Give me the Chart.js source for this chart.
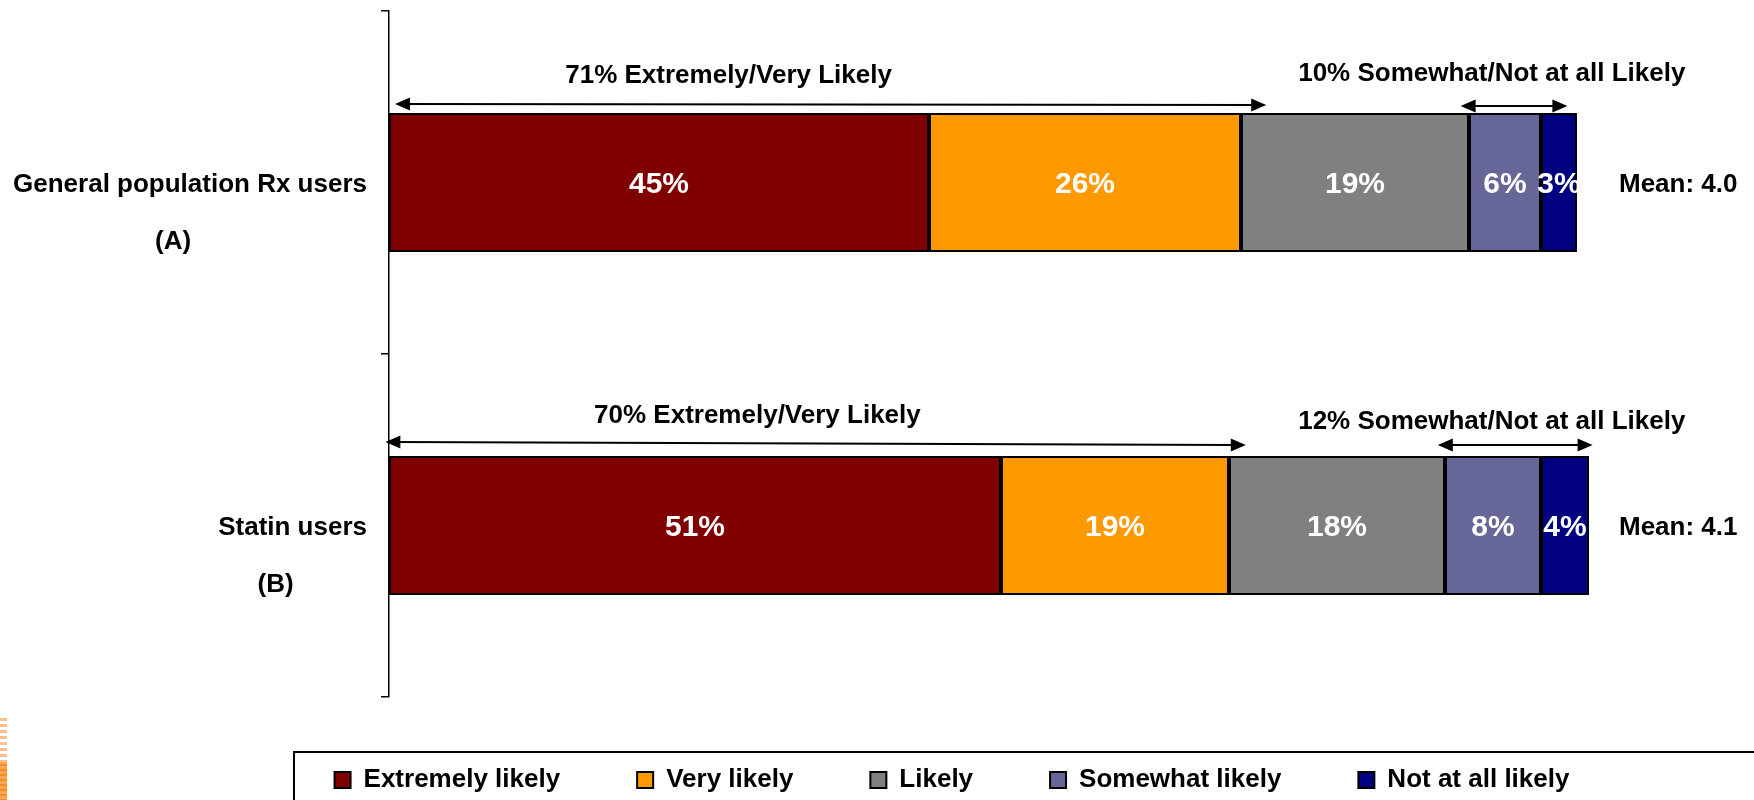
<!DOCTYPE html>
<html>
<head>
<meta charset="utf-8">
<script src="https://cdn.jsdelivr.net/npm/chart.js@4"></script>
<style>
    html, body { margin: 0; padding: 0; background: #fff; overflow: hidden; }
    /* the slide is wider than the window; its right side is cut off like in the original */
    #wrap { width: 1904px; height: 810px; }
</style>
</head>
<body>
<div id="wrap"><canvas id="likelihoodChart" width="1904" height="810"></canvas></div>
<script>
// Likelihood stacked bar chart - general population Rx users vs statin users

const groups = [['General population Rx users', '(A)'], ['Statin users', '(B)']];
const seriesNames = ['Extremely likely', 'Very likely', 'Likely', 'Somewhat likely', 'Not at all likely'];
const seriesColors = ['#800000', '#FF9900', '#808080', '#666699', '#000080'];
const extremelyLikely = [45, 51];
const veryLikely = [26, 19];
const likely = [19, 18];
const somewhatLikely = [6, 8];
const notAtAllLikely = [3, 4];
const topTwoBox = [71, 70];
const bottomTwoBox = [10, 12];
const means = [4.0, 4.1];

(function() {
    'use strict';

    const FONT = '"Liberation Sans", Arial, Helvetica, sans-serif';
    const seriesValues = [extremelyLikely, veryLikely, likely, somewhatLikely, notAtAllLikely];

    // hand placed brackets above each bar (x in axis units, dy relative to bar top)
    const topNotes = [
        { x: 28.3, dy: -37, from: 0.5, to: 73.1, dyL: -9, dyR: -8 },
        { x: 30.7, dy: -40, from: -0.3, to: 71.4, dyL: -14, dyR: -11 }
    ];
    const lowNotes = [
        { x: 91.9, dy: -39, from: 89.3, to: 98.2, dyL: -7, dyR: -7 },
        { x: 91.9, dy: -34, from: 87.4, to: 100.3, dyL: -11, dyR: -11 }
    ];

    function arrowHead(ctx, x, y, dir) {
        ctx.beginPath();
        ctx.moveTo(x, y);
        ctx.lineTo(x - dir * 15, y - 6.5);
        ctx.lineTo(x - dir * 15, y + 6.5);
        ctx.closePath();
        ctx.fill();
    }

    function doubleArrow(ctx, x1, y1, x2, y2) {
        ctx.beginPath();
        ctx.moveTo(x1 + 10, y1);
        ctx.lineTo(x2 - 10, y2);
        ctx.stroke();
        arrowHead(ctx, x1, y1, -1);
        arrowHead(ctx, x2, y2, 1);
    }

    const decorations = {
        id: 'decorations',
        afterLayout(chart) {
            // pull the legend up a little, the item gap is wider than its row gap
            chart.legend.top -= 7;
            chart.legend.bottom -= 7;
        },
        afterDraw(chart) {
            const ctx = chart.ctx;
            const xs = chart.scales.x;
            const ys = chart.scales.y;
            const area = chart.chartArea;
            ctx.save();

            // value labels inside segments
            ctx.font = 'bold 30px ' + FONT;
            ctx.fillStyle = '#fff';
            ctx.textAlign = 'center';
            ctx.textBaseline = 'middle';
            chart.data.datasets.forEach((ds, d) => {
                chart.getDatasetMeta(d).data.forEach((bar, i) => {
                    ctx.fillText(ds.data[i] + '%', (bar.x + bar.base) / 2, bar.y + 2);
                });
            });

            // category labels
            ctx.fillStyle = '#000';
            ctx.font = 'bold 26px ' + FONT;
            groups.forEach((lines, i) => {
                const y = ys.getPixelForValue(i);
                const right = area.left - 22;
                ctx.textAlign = 'right';
                ctx.fillText(lines[0], right, y + 2);
                const w = ctx.measureText(lines[0]).width;
                ctx.textAlign = 'center';
                ctx.fillText(lines[1], right - w / 2 - 17, y + 59);
            });

            // mean scores
            ctx.textAlign = 'left';
            means.forEach((m, i) => {
                ctx.fillText('Mean: ' + m.toFixed(1), xs.getPixelForValue(102.5), ys.getPixelForValue(i) + 2);
            });

            // bracket notes
            ctx.strokeStyle = '#000';
            ctx.lineWidth = 2;
            const meta = chart.getDatasetMeta(0);
            groups.forEach((g, i) => {
                const bar = meta.data[i];
                const top = bar.y - bar.height / 2;
                const t = topNotes[i];
                const l = lowNotes[i];
                ctx.textAlign = 'center';
                ctx.fillText(topTwoBox[i] + '% Extremely/Very Likely', xs.getPixelForValue(t.x), top + t.dy);
                ctx.fillText(bottomTwoBox[i] + '% Somewhat/Not at all Likely', xs.getPixelForValue(l.x), top + l.dy);
                doubleArrow(ctx, xs.getPixelForValue(t.from), top + t.dyL, xs.getPixelForValue(t.to), top + t.dyR);
                doubleArrow(ctx, xs.getPixelForValue(l.from), top + l.dyL, xs.getPixelForValue(l.to), top + l.dyR);
            });

            // legend frame
            const lg = chart.legend;
            ctx.strokeRect(294, lg.top + 62, 1800, 200);

            // slide decoration in the corner
            ctx.fillStyle = '#FBC08E';
            for (let y = 718; y < 762; y += 6) ctx.fillRect(0, y, 7, 3);
            ctx.fillStyle = '#F9A65A';
            ctx.fillRect(0, 762, 7, 48);
            ctx.fillStyle = '#F68B1F';
            for (let y = 764; y < 810; y += 5) ctx.fillRect(0, y, 7, 2);

            ctx.restore();
        }
    };

    const ctx = document.getElementById('likelihoodChart');

    new Chart(ctx, {
        type: 'bar',
        data: {
            labels: groups.map(g => g[0]),
            datasets: seriesNames.map((name, i) => ({
                label: name,
                data: seriesValues[i],
                backgroundColor: seriesColors[i],
                borderColor: '#000',
                borderWidth: 2,
                borderSkipped: false,
                barPercentage: 0.405,
                categoryPercentage: 1.0
            }))
        },
        options: {
            indexAxis: 'y',
            responsive: false,
            animation: false,
            layout: { padding: { top: 11, left: 0, right: 0, bottom: 0 } },
            scales: {
                x: {
                    display: false,
                    stacked: true,
                    min: 0,
                    max: 126.25   // leaves room for the mean labels on the right
                },
                y: {
                    stacked: true,
                    afterFit: function(scale) { scale.width = 389; },
                    ticks: { display: false },
                    grid: { drawOnChartArea: false, color: '#000', lineWidth: 1.5, tickLength: 8 },
                    border: { color: '#000', width: 1.5 }
                }
            },
            plugins: {
                tooltip: { enabled: false },
                legend: {
                    position: 'bottom',
                    labels: {
                        color: '#000',
                        font: { family: FONT, size: 26, weight: 'bold' },
                        boxWidth: 16,
                        boxHeight: 16,
                        padding: 77
                    }
                }
            }
        },
        plugins: [decorations]
    });
})();
</script>
</body>
</html>
